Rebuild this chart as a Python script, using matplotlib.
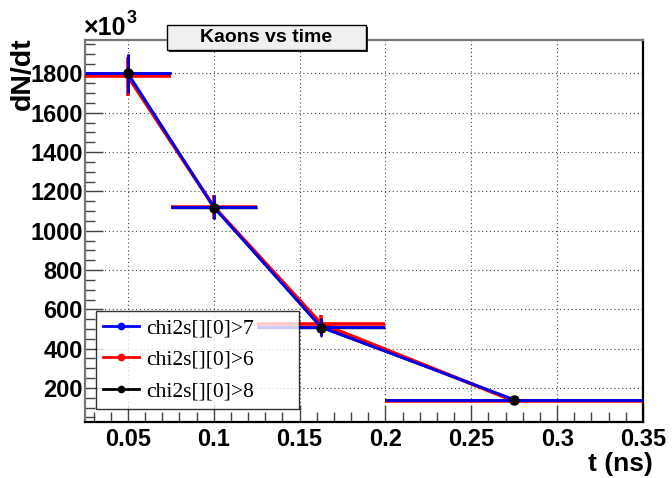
import matplotlib.pyplot as plt
from matplotlib.patches import Rectangle
from matplotlib.lines import Line2D
from matplotlib.ticker import MultipleLocator

plt.rcParams['font.family'] = ['Liberation Sans', 'DejaVu Sans']

# bin centres and half widths (ns)
t_centers = [0.05, 0.1, 0.1625, 0.275]
t_halfwidth = [0.025, 0.025, 0.0375, 0.075]

# dN/dt in units of 10^3
kaons_chi7 = [1800, 1120, 510, 140]
kaons_chi7_err = [100, 60, 45, 12]
kaons_chi6 = [1785, 1122, 527, 134]
kaons_chi6_err = [100, 60, 45, 12]
kaons_chi8 = [1800, 1118, 505, 140]
kaons_chi8_err = [100, 60, 45, 12]

labels = ['chi2s[][0]>7', 'chi2s[][0]>6', 'chi2s[][0]>8']
colors = ['#0000ff', '#ff0000', 'black']

W, H = 672, 478
fig = plt.figure(figsize=(W / 100, H / 100), dpi=100)
ax = fig.add_axes([85 / W, 1 - 422 / H, 558 / W, 382 / H])

ax.set_xlim(0.025, 0.35)
ax.set_ylim(27, 1970)

# thin black graph underneath, red, then blue on top; black markers last
ax.errorbar(t_centers, kaons_chi8, xerr=t_halfwidth, yerr=kaons_chi8_err, color='black',
            lw=1.0, elinewidth=1.0, capsize=0, zorder=2)
ax.errorbar(t_centers, kaons_chi6, xerr=t_halfwidth, yerr=kaons_chi6_err, color=colors[1],
            lw=2.6, elinewidth=2.6, marker='o', ms=4, capsize=0, zorder=3)
ax.errorbar(t_centers, kaons_chi7, xerr=t_halfwidth, yerr=kaons_chi7_err, color='#0000e6',
            lw=2.1, elinewidth=2.1, marker='o', ms=4, capsize=0, zorder=4)
ax.plot(t_centers, kaons_chi8, 'o', color='black', ms=6.5, zorder=5)

ax.xaxis.set_minor_locator(MultipleLocator(0.01))
ax.yaxis.set_minor_locator(MultipleLocator(50))
ax.set_xticks([0.05, 0.1, 0.15, 0.2, 0.25, 0.3, 0.35])
ax.set_xticklabels(['0.05', '0.1', '0.15', '0.2', '0.25', '0.3', '0.35'])
ax.set_yticks(range(200, 2000, 200))
ax.set_yticklabels([str(v) for v in range(200, 2000, 200)])

ax.tick_params(axis='both', which='both', direction='in', top=False, right=False, color='#444444')
ax.tick_params(axis='y', which='major', length=13, width=1, pad=1.5, labelsize=17)
ax.tick_params(axis='y', which='minor', length=7, width=1)
ax.tick_params(axis='x', which='major', length=12, width=1, pad=4, labelsize=17)
ax.tick_params(axis='x', which='minor', length=7, width=1)
for lab in ax.get_xticklabels() + ax.get_yticklabels():
    lab.set_fontweight('bold')

ax.grid(True, which='major', linestyle=(0, (1, 2.5)), color='#444444', lw=0.8)
ax.set_axisbelow(True)

ax.spines['top'].set_color('#777777')
ax.spines['left'].set_color('#777777')
ax.spines['bottom'].set_color('black')
ax.spines['right'].set_color('black')
for s in ax.spines.values():
    s.set_linewidth(1.6)

handles = [Line2D([], [], color=c, lw=2.0, marker='o', ms=4.5) for c in colors]
leg = ax.legend(handles, labels, loc='lower left',
                bbox_to_anchor=(0.0197, 0.034, 0.364, 0.2566), mode='expand', borderaxespad=0,
                prop={'family': 'Liberation Serif', 'size': 15.5}, frameon=True, fancybox=False,
                handlelength=1.65, handletextpad=0.37, labelspacing=0.55, borderpad=0.33)
leg.get_frame().set_edgecolor('black')
leg.get_frame().set_linewidth(1.0)
leg.set_zorder(10)

# axis titles
fig.text(23 / W, 1 - 37 / H, 'dN/dt', rotation=90, ha='center', va='top', fontsize=20.5, fontweight='bold')
fig.text(653 / W, 1 - 476 / H, 't (ns)', ha='right', va='bottom', fontsize=19, fontweight='bold')
fig.text(84 / W, 1 - 35 / H, '\u00d710', ha='left', va='baseline', fontsize=18, fontweight='bold')
fig.text(127 / W, 1 - 23 / H, '3', ha='left', va='baseline', fontsize=13, fontweight='bold')

# title box with shadow
fig.patches.append(Rectangle((169 / W, 1 - 52 / H), 199 / W, 25 / H, transform=fig.transFigure,
                             facecolor='#222222', edgecolor='none', zorder=5))
fig.patches.append(Rectangle((167 / W, 1 - 50 / H), 199 / W, 25 / H, transform=fig.transFigure,
                             facecolor='#f0f0f0', edgecolor='black', lw=1.0, zorder=6))
fig.text(266.5 / W, 1 - 38 / H, 'Kaons vs time', ha='center', va='center', fontsize=14,
         fontweight='bold', zorder=7)

fig.savefig('out.png', dpi=100)
